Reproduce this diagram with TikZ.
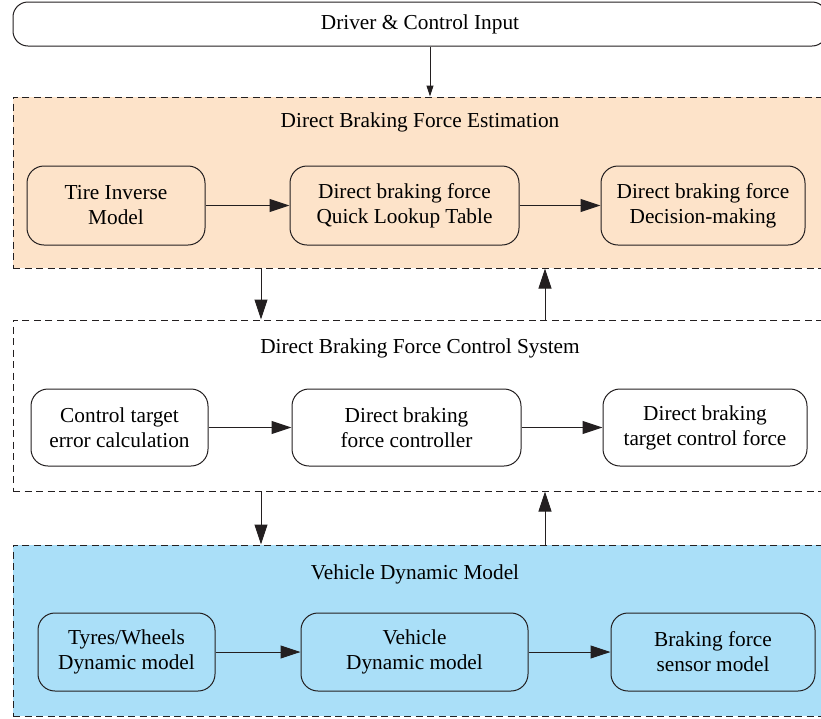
\documentclass[tikz,border=0pt]{standalone}
\usepackage{fontspec}
\setmainfont{Liberation Serif}
\usetikzlibrary{arrows.meta}
\definecolor{linec}{HTML}{231F20}
\definecolor{estfill}{HTML}{FDE3C9}
\definecolor{vehfill}{HTML}{AADFF8}

\begin{document}
\begin{tikzpicture}[x=1pt,y=-1pt,font=\fontsize{21.3}{25}\selectfont,
  box/.style={draw=linec,line width=1pt,rounded corners=17pt,align=center,inner sep=0pt,minimum height=79pt},
  frame/.style={draw=linec,line width=1pt,dash pattern=on 7pt off 4.5pt,inner sep=0pt,minimum width=814pt,minimum height=171pt},
  arr/.style={draw=linec,line width=1pt,-{Triangle[length=20pt,width=13pt]}},
  thin arr/.style={draw=linec,line width=1pt,-{Triangle[length=11pt,width=7pt]}}]
\clip (0,0) rectangle (821,718); %page size of the reference

%Shape: top input box
\node [box,rounded corners=15pt,minimum width=814pt,minimum height=44pt] (drv) at (420,24) {Driver \& Control Input};

%Shape: estimation frame
\node [frame,fill=estfill] (est) at (420,182.5) {};
% Text Node
\node (esttitle) at (420,122) {Direct Braking Force Estimation};
\node [box,minimum width=178pt] (tim) at (116,205.5) {Tire Inverse\\Model};
\node [box,minimum width=229pt] (qlt) at (404.5,205.5) {Direct braking force\\Quick Lookup Table};
\node [box,minimum width=204pt] (dmk) at (703,205.5) {Direct braking force\\Decision-making};

%Shape: control system frame
\node [frame] (ctl) at (420,405.5) {};
% Text Node
\node (ctltitle) at (420,348) {Direct Braking Force Control System};
\node [box,minimum width=177pt,minimum height=77pt] (cte) at (119.5,427.5) {Control target\\error calculation};
\node [box,minimum width=229pt,minimum height=77pt] (dbc) at (406.5,427.5) {Direct braking\\force controller};
\node [box,minimum width=204pt,minimum height=77pt] (tcf) at (705,427.5) {Direct braking\\target control force};

%Shape: vehicle model frame
\node [frame,fill=vehfill] (veh) at (420,630.5) {};
% Text Node
\node (vehtitle) at (415,574) {Vehicle Dynamic Model};
\node [box,minimum width=177pt,minimum height=78pt] (tws) at (126.5,652) {Tyres/Wheels\\Dynamic model};
\node [box,minimum width=227pt,minimum height=78pt] (vdm) at (414.5,652) {Vehicle\\Dynamic model};
\node [box,minimum width=204pt,minimum height=78pt] (bfs) at (713,652) {Braking force\\sensor model};

%Arrows
\coordinate (inx) at (430,0);
\coordinate (dnx) at (261,0);
\coordinate (upx) at (545,0);
\draw [thin arr] (drv.south -| inx) -- (est.north -| inx);
\draw [arr] (tim) -- (qlt);
\draw [arr] (qlt) -- (dmk);
\draw [arr] (cte) -- (dbc);
\draw [arr] (dbc) -- (tcf);
\draw [arr] (tws) -- (vdm);
\draw [arr] (vdm) -- (bfs);
\draw [arr] (est.south -| dnx) -- (ctl.north -| dnx);
\draw [arr] (ctl.north -| upx) -- (est.south -| upx);
\draw [arr] (ctl.south -| dnx) -- (veh.north -| dnx);
\draw [arr] (veh.north -| upx) -- (ctl.south -| upx);

\end{tikzpicture}
\end{document}
